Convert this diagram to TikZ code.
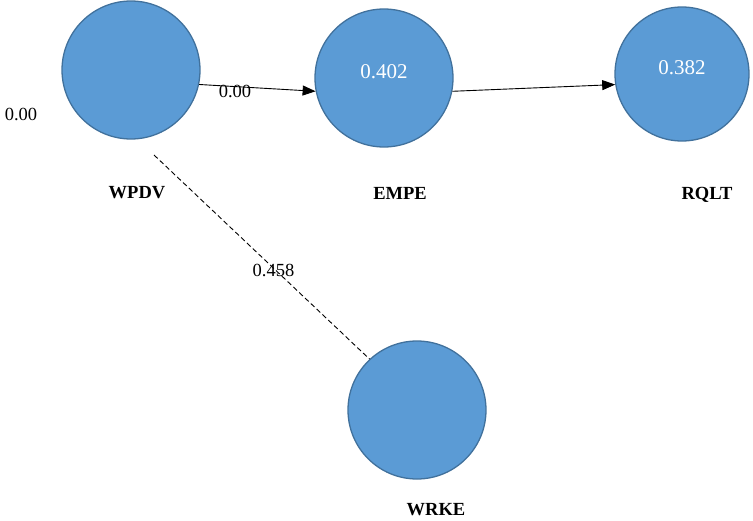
\documentclass[tikz,border=0pt]{standalone}
\usepackage{fontspec}
\setmainfont{Liberation Serif}
\usetikzlibrary{arrows.meta}
\definecolor{cfill}{HTML}{5B9BD5}
\definecolor{cdraw}{HTML}{41719C}
\begin{document}
\begin{tikzpicture}[x=1pt,y=-1pt,
  lv/.style={circle,fill=cfill,draw=cdraw,line width=1.3pt,minimum size=138pt,inner sep=0pt},
  valtext/.style={text=white,font=\fontsize{21}{23}\selectfont,anchor=base},
  lvname/.style={font=\fontsize{18.5}{20}\selectfont\bfseries,anchor=base},
  numtext/.style={font=\fontsize{18.5}{20}\selectfont,anchor=base},
  conn/.style={line width=0.9pt,-{Triangle[length=13pt,width=10pt]}}]
\useasboundingbox (0,0) rectangle (753,520);
\node[lv] (w) at (131,70) {};
\node[lv] (e) at (384,78) {};
\node[lv,minimum size=134pt] (r) at (682,74) {};
\node[lv] (k) at (417,410) {};
\node[valtext] (ev) at (384,78) {0.402};
\node[valtext] (rv) at (682,74) {0.382};
\node[lvname] (wn) at (137,198) {WPDV};
\node[lvname] (en) at (400,199) {EMPE};
\node[lvname] (rn) at (707,199) {RQLT};
\node[lvname] (kn) at (436,515) {WRKE};
\node[numtext] (wr) at (21,120) {0.00};
\draw[conn] (w.-12.4) -- (e.191.5);
\draw[conn] (e.-11) -- (r.189);
\coordinate (ds) at (154,155);
\draw[line width=0.9pt,dash pattern=on 5pt off 3pt] (ds) -- (k.133);
\node[numtext] (l1) at (235,97) {0.00};
\node[numtext] (l2) at (273.5,276.5) {0.458};
\end{tikzpicture}
\end{document}
